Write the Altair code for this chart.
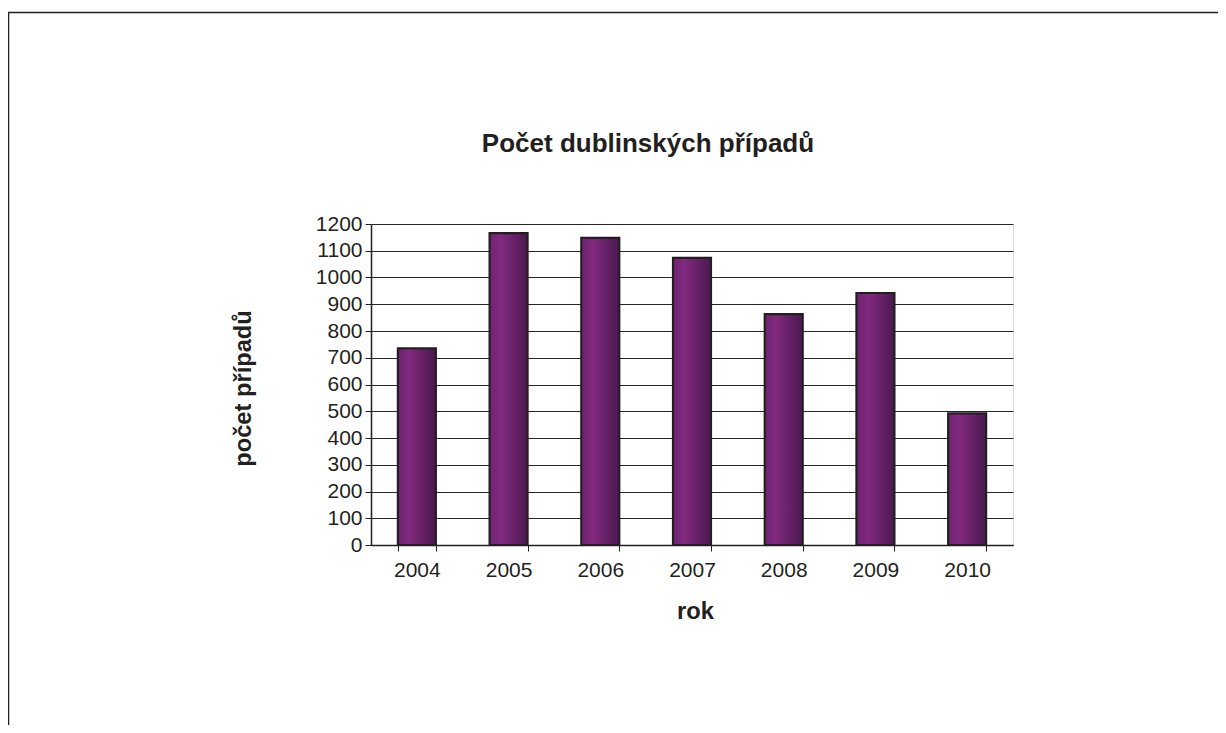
import altair as alt
import pandas as pd

years = ["2004", "2005", "2006", "2007", "2008", "2009", "2010"]
cases = [735, 1166, 1148, 1073, 863, 942, 492]
y_ticks = [0, 100, 200, 300, 400, 500, 600, 700, 800, 900, 1000, 1100, 1200]
chart_title = "Počet dublinských případů"

df = pd.DataFrame({"rok": years, "pocet": cases})

FONT = "Liberation Sans"
TXT = "#231f20"

bars = alt.Chart(df).mark_bar(
    color=alt.Gradient(
        gradient="linear",
        x1=0, x2=1, y1=0, y2=0,
        stops=[
            alt.GradientStop(offset=0, color="#6f2372"),
            alt.GradientStop(offset=0.3, color="#82297f"),
            alt.GradientStop(offset=1, color="#4a1950"),
        ],
    ),
    stroke=TXT,
    strokeWidth=2.2,
).encode(
    x=alt.X(
        "rok:N",
        sort=years,
        scale=alt.Scale(paddingInner=0.586, paddingOuter=0.293),
        axis=alt.Axis(
            title="rok",
            labelAngle=0,
            tickBand="extent",
            tickSize=6,
            tickColor=TXT,
            domainColor=TXT,
            domainWidth=1.5,
            labelFont=FONT,
            labelFontSize=21,
            labelColor=TXT,
            labelBaseline="alphabetic",
            labelPadding=25,
            titleFont=FONT,
            titleFontSize=23.7,
            titleFontWeight="bold",
            titleColor=TXT,
            titleBaseline="alphabetic",
            titleX=324,
            titleY=73,
            grid=False,
        ),
    ),
    y=alt.Y(
        "pocet:Q",
        scale=alt.Scale(domain=[0, 1200], nice=False),
        axis=alt.Axis(
            title="počet případů",
            values=y_ticks,
            format="d",
            tickSize=6,
            tickColor=TXT,
            domainColor=TXT,
            domainWidth=1.5,
            labelFont=FONT,
            labelFontSize=21,
            labelColor=TXT,
            labelPadding=3,
            titleFont=FONT,
            titleFontSize=23.7,
            titleFontWeight="bold",
            titleColor=TXT,
            titleBaseline="alphabetic",
            titleAngle=-90,
            titleX=-121,
            titleY=164,
            grid=True,
            gridColor="#262626",
            gridWidth=1.2,
        ),
    ),
)

frame = alt.Chart(alt.Data(values=[{"f": 1}])).mark_rect(
    filled=False, stroke="#231f20", strokeWidth=1.5
).encode(
    x=alt.value(-362.5),
    y=alt.value(-211.5),
    x2=alt.value(3000),
    y2=alt.value(3000),
)

title = alt.Chart(alt.Data(values=[{"t": chart_title}])).mark_text(
    font=FONT,
    fontSize=26,
    fontWeight="bold",
    color=TXT,
    align="center",
    baseline="alphabetic",
).encode(
    text="t:N",
    x=alt.value(277),
    y=alt.value(-72),
)

chart = alt.layer(frame, bars, title).properties(
    width=642,
    height=321,
    autosize="none",
    padding={"left": 363, "top": 216, "right": 205, "bottom": 180},
).configure_view(
    fill="#c6c7c9",
    stroke="#9d9d9d",
    strokeWidth=2,
).configure(background="white")

chart.save("out.html", embed_options={"renderer": "svg", "actions": False})
